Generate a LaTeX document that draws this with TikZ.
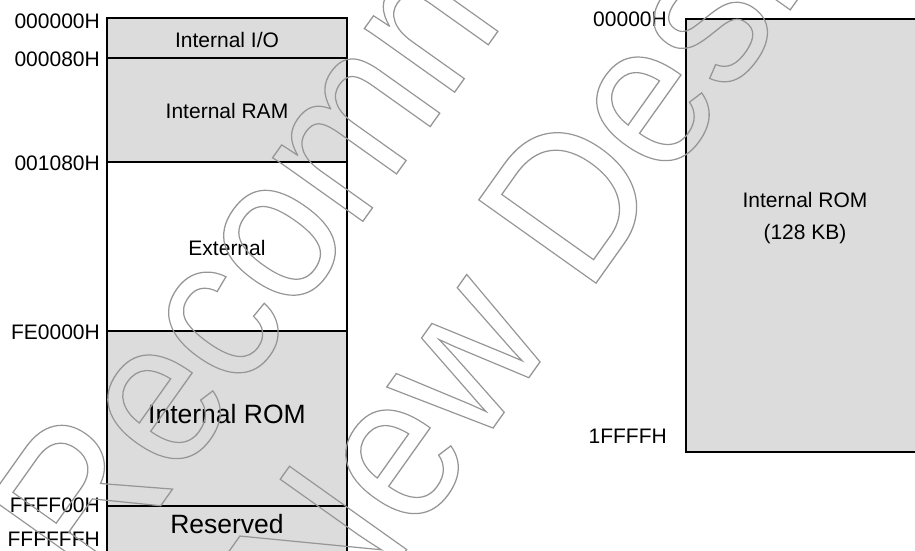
\documentclass[tikz,border=0pt]{standalone}
\usepackage{fontspec}
\setmainfont{Liberation Sans}
\definecolor{memfill}{RGB}{220,220,220}
\definecolor{wmgray}{RGB}{150,150,150}
\newcommand\outlinetext[1]{\special{pdf:literal direct 1 Tr 1.3 w}#1\special{pdf:literal direct 0 Tr}}
\begin{document}
\begin{tikzpicture}[x=1pt,y=-1pt,
  memline/.style={draw=black,line width=1.4pt},
  graybox/.style={fill=memfill},
  lbl/.style={anchor=base east,inner sep=0pt,font=\fontsize{21}{25}\selectfont},
  txt/.style={anchor=base,inner sep=0pt,font=\fontsize{21}{25}\selectfont},
  bigtxt/.style={anchor=base,inner sep=0pt,font=\fontsize{26.5}{30}\selectfont},
  wm/.style={anchor=base west,inner sep=0pt,transform shape,text=wmgray,font=\fontsize{209}{209}\selectfont}]
\useasboundingbox (0,0) rectangle (915,551);
\begin{scope}
\clip (0,0) rectangle (915,551);
% left memory map
\fill[graybox] (107,18) rectangle (347,162);
\fill[graybox] (107,331) rectangle (347,560);
\draw[memline] (107,18) rectangle (347,560);
\draw[memline] (107,58) -- (347,58);
\draw[memline] (107,162) -- (347,162);
\draw[memline] (107,331) -- (347,331);
\draw[memline] (107,506) -- (347,506);
% right memory map
\fill[graybox] (686,19) rectangle (930,452);
\draw[memline] (930,19) -- (686,19) -- (686,452) -- (930,452);
\end{scope}
% left labels
\node[lbl] (a0) at (100,28.3) {000000H};
\node[lbl] (a1) at (100,66.7) {000080H};
\node[lbl] (a2) at (100,170) {001080H};
\node[lbl] (a3) at (100,339.3) {FE0000H};
\node[lbl] (a4) at (100,512.7) {FFFF00H};
\node[lbl] (a5) at (100,546.7) {FFFFFFH};
% left region texts
\node[txt] (io) at (227,47.5) {Internal I/O};
\node[txt] (ram) at (227,118.3) {Internal RAM};
\node[txt] (ext) at (227,255) {External};
\node[bigtxt] (rom) at (227,423) {Internal ROM};
\node[bigtxt] (res) at (227,533) {Reserved};
% right labels and texts
\node[lbl] (b0) at (667,26.7) {00000H};
\node[lbl] (b1) at (667,443.3) {1FFFFH};
\node[txt] (rom2) at (805,207.5) {Internal ROM};
\node[txt] (kb) at (805,239) {(128 KB)};
% watermark
\begin{scope}
\clip (0,0) rectangle (915,551);
\begin{scope}[shift={(98,594)},rotate=54.6,xscale=0.91]
\node[wm] (wmA) at (0,0) {\outlinetext{Recommended}};
\end{scope}
\begin{scope}[shift={(336,649)},rotate=54.6,xscale=0.91]
\node[wm] (wmB) at (0,0) {\outlinetext{New Design}};
\end{scope}
\end{scope}
\end{tikzpicture}
\end{document}
